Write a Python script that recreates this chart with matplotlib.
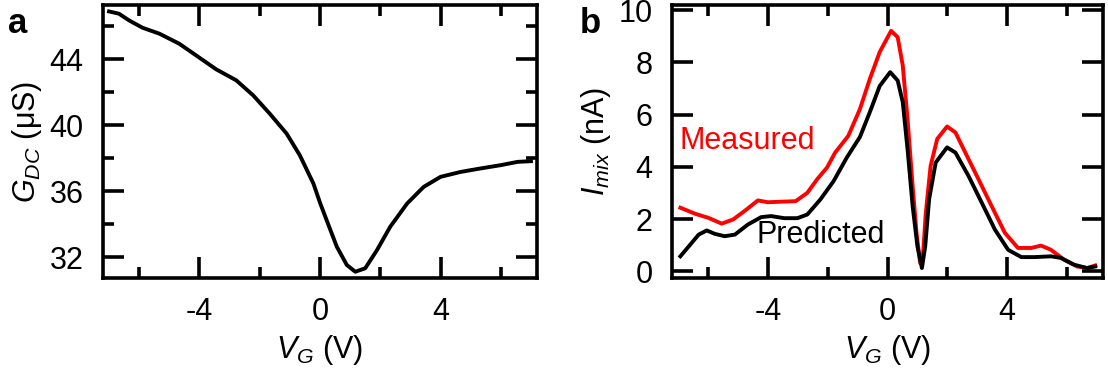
import matplotlib
matplotlib.use('Agg')
import matplotlib.pyplot as plt
import numpy as np
from matplotlib.ticker import MultipleLocator

plt.rcParams['font.family'] = ['Liberation Sans', 'DejaVu Sans']
plt.rcParams['mathtext.fontset'] = 'custom'
plt.rcParams['mathtext.rm'] = 'Liberation Sans'
plt.rcParams['mathtext.it'] = 'Liberation Sans:italic'
plt.rcParams['axes.unicode_minus'] = False

# panel a: DC conductance vs gate voltage
vg_dc = [-7.0, -6.67, -6.33, -5.89, -5.33, -4.67, -4.11, -3.44, -2.78, -2.22, -1.67,
         -1.11, -0.67, -0.22, 0.0, 0.22, 0.56, 0.89, 1.17, 1.5, 1.89, 2.33, 2.89,
         3.44, 4.0, 4.67, 5.33, 6.0, 6.56, 7.0]
g_dc = [46.91, 46.77, 46.36, 45.92, 45.56, 44.95, 44.24, 43.39, 42.73, 41.82, 40.71,
        39.5, 38.18, 36.47, 35.3, 34.24, 32.62, 31.52, 31.11, 31.32, 32.42, 33.84, 35.25,
        36.26, 36.87, 37.17, 37.38, 37.58, 37.78, 37.82]

# panel b: mixing current, measured and predicted
vg_meas = [-6.92, -6.43, -5.98, -5.54, -5.16, -4.78, -4.33, -4.0, -3.56, -3.07, -2.68,
           -2.35, -2.02, -1.75, -1.31, -0.92, -0.59, -0.26, 0.12, 0.34, 0.51, 0.67,
           0.84, 0.97, 1.09, 1.19, 1.28, 1.44, 1.66, 1.99, 2.27, 2.6, 3.04, 3.48,
           3.92, 4.36, 4.80, 5.13, 5.46, 5.90, 6.34, 6.67, 6.94]
i_meas = [2.44, 2.21, 2.05, 1.83, 1.99, 2.31, 2.72, 2.65, 2.67, 2.69, 3.01,
          3.53, 3.98, 4.55, 5.19, 6.22, 7.37, 8.4, 9.21, 8.97, 7.88, 5.83,
          3.27, 1.48, 0.32, 0.71, 2.25, 4.04, 5.07, 5.55, 5.32, 4.55, 3.53, 2.5,
          1.48, 0.90, 0.90, 0.99, 0.83, 0.45, 0.19, 0.13, 0.23]

vg_pred = [-6.92, -6.64, -6.31, -6.04, -5.77, -5.44, -5.1, -4.66, -4.22, -3.89, -3.45,
           -3.01, -2.68, -2.24, -1.80, -1.36, -0.92, -0.59, -0.26, 0.09, 0.34, 0.51,
           0.67, 0.84, 1.0, 1.15, 1.26, 1.39, 1.61, 1.99, 2.27, 2.71, 3.15, 3.59,
           4.03, 4.47, 4.91, 5.46, 5.79, 6.23, 6.67, 6.94]
i_pred = [0.58, 0.96, 1.41, 1.57, 1.44, 1.35, 1.41, 1.80, 2.08, 2.12, 2.04,
          2.04, 2.18, 2.76, 3.46, 4.36, 5.15, 6.1, 7.1, 7.63, 7.31, 6.48,
          4.68, 2.5, 0.96, 0.13, 0.96, 2.76, 4.17, 4.75, 4.55, 3.65, 2.63, 1.6,
          0.83, 0.55, 0.55, 0.58, 0.52, 0.26, 0.13, 0.19]

W, H = 1108, 374
fig = plt.figure(figsize=(W / 100, H / 100), dpi=100)
ax1 = fig.add_axes([103 / W, 1 - 278 / H, 434 / W, 273 / H])
ax2 = fig.add_axes([672 / W, 1 - 278 / H, 431 / W, 273 / H])

fs = 22
lw = 2.8
for ax in (ax1, ax2):
    for s in ax.spines.values():
        s.set_linewidth(2.6)
    ax.tick_params(which='both', direction='in', top=True, right=True,
                   width=2.6, labelsize=fs, pad=14)
    ax.tick_params(which='major', length=15)
    ax.tick_params(which='minor', length=8)
    ax.set_xlim(-7.2, 7.2)
    ax.set_xticks([-4, 0, 4])
    ax.xaxis.set_minor_locator(MultipleLocator(2))
    ax.set_xlabel(r'$V_G$ (V)', fontsize=fs, labelpad=4)

ax1.plot(vg_dc, g_dc, color='black', lw=lw, solid_joinstyle='round')
ax1.set_ylim(30.73, 47.3)
ax1.set_yticks([32, 36, 40, 44])
ax1.yaxis.set_minor_locator(MultipleLocator(2))
ax1.set_ylabel(r'$G_{DC}$ (μS)', fontsize=fs, labelpad=4)

ax2.plot(vg_meas, i_meas, color='#ff0000', lw=lw, solid_joinstyle='round')
ax2.plot(vg_pred, i_pred, color='black', lw=lw, solid_joinstyle='round')
ax2.set_ylim(-0.25, 10.2)
ax2.set_yticks([0, 2, 4, 6, 8, 10])
ax2.set_ylabel(r'$I_{mix}$ (nA)', fontsize=fs, labelpad=4)
ax2.text(-6.96, 4.99, 'Measured', color='#ff0000', fontsize=fs, va='center', ha='left')
ax2.text(-4.39, 1.41, 'Predicted', color='black', fontsize=fs, va='center', ha='left')

fig.text(8 / W, 1 - 33 / H, 'a', fontsize=25, fontweight='bold', va='baseline')
fig.text(580 / W, 1 - 33 / H, 'b', fontsize=25, fontweight='bold', va='baseline')

fig.savefig('out.png', dpi=100)
